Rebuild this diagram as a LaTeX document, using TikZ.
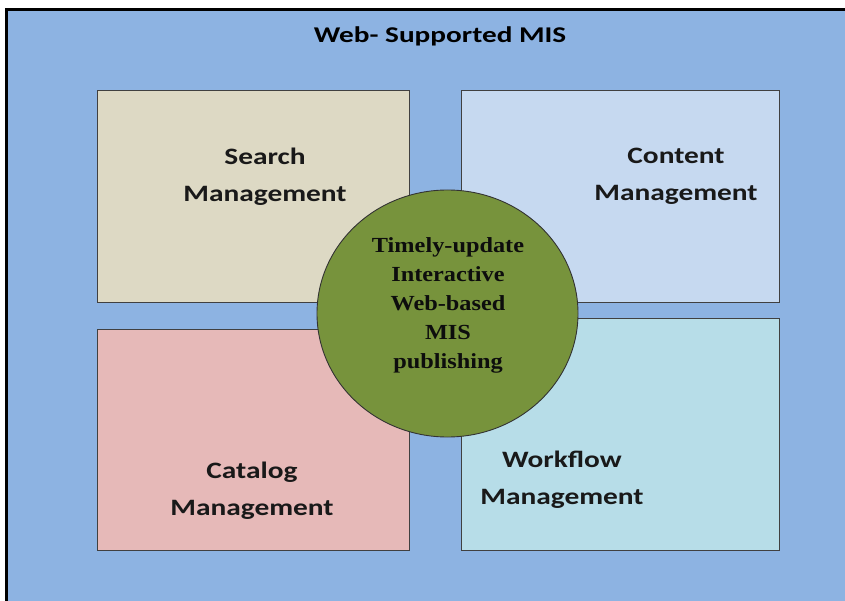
\documentclass[tikz,border=0pt]{standalone}
\usepackage{fontspec}
\setmainfont{Carlito}
\newfontfamily\panelfont[FakeStretch=1.25]{Carlito}
\newfontfamily\titlefont[FakeStretch=1.3]{Carlito}
\newfontfamily\serifbold[FakeStretch=1.13]{Liberation Serif}
\definecolor{bgblue}{HTML}{8DB3E2}
\definecolor{searchfill}{HTML}{DDD9C4}
\definecolor{contentfill}{HTML}{C6D9F0}
\definecolor{catalogfill}{HTML}{E6B9B8}
\definecolor{workflowfill}{HTML}{B7DDE8}
\definecolor{hubfill}{HTML}{77933C}
\tikzset{
  panel/.style={draw=black!75, line width=0.9pt},
  panellabel/.style={font=\panelfont\fontsize{23.5}{37}\selectfont\bfseries, align=center, text=black!90},
  hublabel/.style={font=\serifbold\fontsize{21.5}{29}\selectfont\bfseries, align=center, text=black!95},
}
\begin{document}
\begin{tikzpicture}[x=1pt,y=-1pt]
  \useasboundingbox (0,0) rectangle (845,601);
  % outer frame
  \fill[white] (0,0) rectangle (845,601);
  \fill[bgblue] (7,9) rectangle (845,601);
  \draw[black, line width=3pt] (6.5,601) -- (6.5,9.5) -- (845,9.5);
  \node[font=\titlefont\fontsize{22.5}{26}\selectfont\bfseries] (title) at (440,36) {Web- Supported MIS};

  % four panels
  \draw[panel, fill=searchfill]   (97,90)  rectangle (409,302);
  \draw[panel, fill=contentfill]  (461,90) rectangle (779,302);
  \draw[panel, fill=catalogfill]  (97,329) rectangle (409,550);
  \draw[panel, fill=workflowfill] (461,318) rectangle (779,550);

  \node[panellabel] (search)   at (265,176.5) {Search\\Management};
  \node[panellabel] (content)  at (676,176.5) {Content\\Management};
  \node[panellabel] (catalog)  at (252,490.5) {Catalog\\Management};
  \node[panellabel] (workflow) at (562,479.5) {Workflow\\Management};

  % central hub
  \draw[draw=black!80, line width=0.9pt, fill=hubfill] (447.5,313.5) ellipse [x radius=130.5, y radius=123.5];
  \node[hublabel] (hub) at (448,305) {Timely-update\\Interactive\\Web-based\\MIS\\publishing};
\end{tikzpicture}
\end{document}
